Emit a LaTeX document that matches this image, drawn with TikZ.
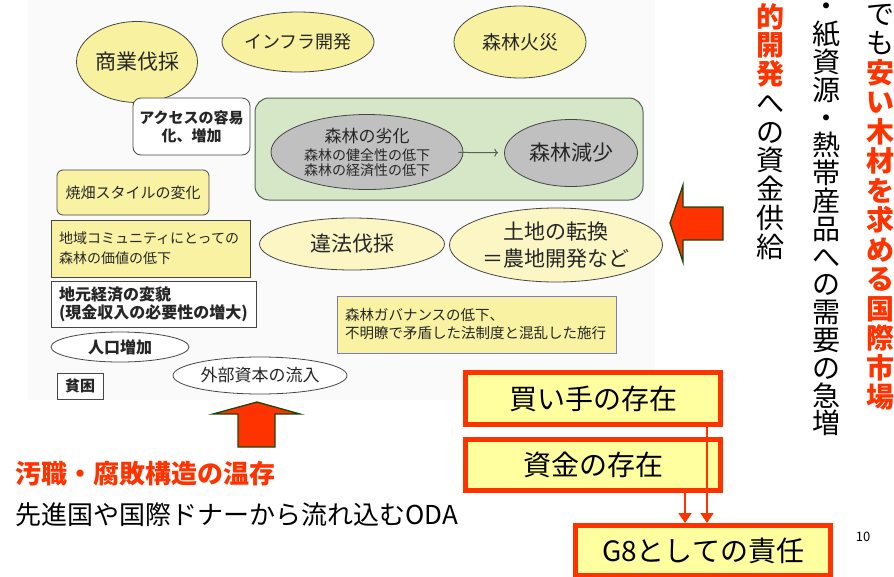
\documentclass[tikz,border=0pt]{standalone}
\usepackage{fontspec}
\setmainfont{Noto Sans CJK JP}
\usetikzlibrary{shapes.geometric,arrows.meta,positioning}
\definecolor{ylw}{RGB}{248,241,160}
\definecolor{ylwlight}{RGB}{251,246,196}
\definecolor{boxylw}{RGB}{249,242,163}
\definecolor{redfill}{RGB}{255,255,160}
\definecolor{accent}{RGB}{255,51,0}
\definecolor{forestbg}{RGB}{213,231,198}
\definecolor{forestln}{RGB}{85,100,85}
\definecolor{grayfill}{RGB}{192,192,192}
\definecolor{edgegray}{RGB}{70,70,70}
\definecolor{arrowln}{RGB}{25,70,15}
\definecolor{govln}{RGB}{125,125,190}
\newcommand{\redch}[1]{\textcolor{accent}{\bfseries #1}}

\begin{document}
\begin{tikzpicture}[x=1pt, y=-1pt, inner sep=0pt,
   oval/.style={ellipse, draw=edgegray, line width=0.8pt, text=black!85, align=center},
   yoval/.style={oval, fill=ylw},
   loval/.style={oval, fill=ylwlight},
   goval/.style={oval, fill=grayfill},
   woval/.style={oval, fill=white},
   tagbox/.style={rectangle, draw=edgegray, line width=0.8pt, text=black!85, align=left},
   redbox/.style={rectangle, draw=accent, line width=5pt, fill=redfill, minimum width=255pt, minimum height=52pt, font=\fontsize{28}{30}\selectfont},
   redline/.style={accent, line width=1.6pt, -{Triangle[width=13pt,length=10pt]}},
   blockarrow/.style={fill=accent, draw=arrowln, line width=1.3pt, line join=miter},
   vcol/.style={anchor=north, align=center}]
   \useasboundingbox (0,0) rectangle (894,576);
   \fill[black!2] (28,0) rectangle (655,400);

   \node[yoval, minimum width=121pt, minimum height=81pt, font=\fontsize{21}{24}\selectfont] (shogyo) at (137,62) {商業伐採};
   \node[yoval, minimum width=127pt, minimum height=60pt, font=\fontsize{18}{21}\selectfont] (infra) at (298,42) {インフラ開発};
   \node[yoval, minimum width=132pt, minimum height=72pt, font=\fontsize{19}{22}\selectfont] (kasai) at (520,42) {森林火災};
   \node[tagbox, rounded corners=8pt, fill=white, minimum width=117pt, minimum height=57pt, align=center, font=\bfseries\fontsize{15}{18}\selectfont] (access) at (191.5,126.5) {アクセスの容易\\化、増加};

   \node[fill=forestbg, draw=forestln, line width=1pt, rounded corners=14pt, minimum width=388pt, minimum height=102pt] (forest) at (449,149) {};
   \node[goval, minimum width=192pt, minimum height=75pt, font=\fontsize{14}{15}\selectfont] (rekka) at (367,152) {{\fontsize{17}{18}\selectfont 森林の劣化}\\[3pt]森林の健全性の低下\\森林の経済性の低下};
   \node[goval, minimum width=133pt, minimum height=67pt, font=\fontsize{21}{24}\selectfont] (gensho) at (571,153) {森林減少};

   \node[tagbox, rounded corners=6pt, fill=boxylw, minimum width=152pt, minimum height=45pt, align=center, font=\fontsize{15}{18}\selectfont] (yakihata) at (133,192.5) {焼畑スタイルの変化};
   \node[tagbox, fill=boxylw, inner xsep=8pt, text width=183pt, minimum height=57pt, font=\fontsize{14}{20}\selectfont] (chiiki) at (150.5,248.5) {地域コミュニティにとっての\\森林の価値の低下};
   \node[loval, minimum width=185pt, minimum height=52pt, font=\fontsize{21}{24}\selectfont] (ihou) at (352,244) {違法伐採};
   \node[loval, minimum width=213pt, minimum height=74pt, font=\fontsize{21}{27}\selectfont] (tochi) at (556,245) {土地の転換\\＝農地開発など};
   \node[tagbox, fill=white, inner xsep=8pt, text width=189pt, minimum height=46pt, font=\bfseries\fontsize{16}{18}\selectfont] (jimoto) at (153.5,304) {地元経済の変貌\\(現金収入の必要性の増大)};
   \node[woval, minimum width=138pt, minimum height=30pt, font=\bfseries\fontsize{16}{18}\selectfont] (jinko) at (120,347) {人口増加};
   \node[tagbox, fill=white, minimum width=46pt, minimum height=26pt, align=center, font=\bfseries\fontsize{15}{17}\selectfont] (hinkon) at (80,386) {貧困};
   \node[woval, minimum width=174pt, minimum height=37pt, font=\fontsize{17}{19}\selectfont] (gaibu) at (260,375.5) {外部資本の流入};
   \node[tagbox, draw=govln, fill=boxylw, inner xsep=8pt, text width=263pt, minimum height=57pt, font=\fontsize{14.5}{18}\selectfont] (gov) at (476.5,324.5) {森林ガバナンスの低下、\\不明瞭で矛盾した法制度と混乱した施行};

   \path[->, draw=forestln, line width=1pt, shorten <=-5pt, shorten >=6pt]
    (rekka) edge (gensho);

   \filldraw[blockarrow] (257,402) -- (300,414) -- (275,414) -- (275,447) -- (238,447) -- (238,414) -- (213,414) -- cycle;
   \filldraw[blockarrow] (670,223) -- (683,185) -- (683,207) -- (723,207) -- (723,240) -- (683,240) -- (683,262) -- cycle;

   \node[anchor=west, text=accent, font=\bfseries\fontsize{26}{28}\selectfont] (oshoku) at (15,474) {汚職・腐敗構造の温存};
   \node[anchor=west, font=\fontsize{26}{28}\selectfont] (oda) at (15,515) {先進国や国際ドナーから流れ込むODA};

   \node[redbox] (kaite) at (593,398.5) {買い手の存在};
   \node[redbox, minimum height=51pt] (shikin) [below = 10pt of kaite] {資金の存在};
   \node[redbox, minimum height=50pt] (g8) at (703,550.5) {G8としての責任};
   \coordinate (r_a) at (707,0);
   \coordinate (r_b) at (685,0);
   \path[redline]
    (kaite.south -| r_a) edge (g8.north -| r_a)
    (shikin.south -| r_b) edge (g8.north -| r_b);

   \node[font=\fontsize{13}{15}\selectfont] (pageno) at (863,537) {10};

   \node[vcol, font=\fontsize{28}{29.5}\selectfont] (col_c) at (880,4) {で\\も\\\redch{安}\\\redch{い}\\\redch{木}\\\redch{材}\\\redch{を}\\\redch{求}\\\redch{め}\\\redch{る}\\\redch{国}\\\redch{際}\\\redch{市}\\\redch{場}};
   \node[vcol, font=\fontsize{28}{27.8}\selectfont] (col_b) at (826,3) {・\\紙\\資\\源\\・\\熱\\帯\\産\\品\\へ\\の\\需\\要\\の\\急\\増};
   \node[vcol, font=\fontsize{28}{28.75}\selectfont] (col_a) at (770,3) {\redch{的}\\\redch{開}\\\redch{発}\\へ\\の\\資\\金\\供\\給};
\end{tikzpicture}
\end{document}
